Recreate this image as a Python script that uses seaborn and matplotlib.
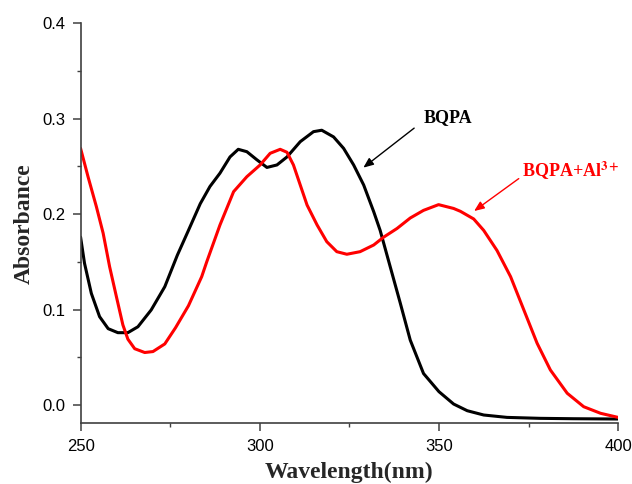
import matplotlib
matplotlib.use("Agg")
import matplotlib.pyplot as plt
import seaborn as sns
import pandas as pd
from matplotlib.ticker import MultipleLocator

# ---- data ----
black_wl = [250, 251.1, 253, 255.3, 257.7, 260.4, 263.2, 266, 269.7, 273.5, 277, 280.1,
            283.4, 286.1, 288.9, 291.7, 294, 296.4, 299.2, 302, 304.8, 307.6, 311.3, 315,
            317.3, 320.6, 323.4, 326.2, 329, 331.8, 333.6, 336.4, 339.2, 342, 345.7, 350,
            354.1, 357.9, 362.5, 369, 378.3, 387.6, 400]
black_abs = [0.176, 0.1485, 0.117, 0.0926, 0.080, 0.0758, 0.0758, 0.082, 0.0996, 0.124, 0.157, 0.183,
             0.211, 0.229, 0.243, 0.260, 0.268, 0.2655, 0.257, 0.249, 0.2516, 0.260, 0.276, 0.2865,
             0.288, 0.281, 0.269, 0.2516, 0.2306, 0.2026, 0.183, 0.145, 0.107, 0.068, 0.033, 0.014,
             0.001, -0.006, -0.0105, -0.013, -0.014, -0.0144, -0.0147]

red_wl = [250, 252.1, 254.4, 256.3, 258.1, 260, 261.8, 263.2, 265.1, 267.9, 270.2, 273.5,
          276.5, 280.1, 283.8, 285.2, 288.9, 292.7, 296.4, 300.1, 302.9, 305.7, 307.6, 309.4,
          311.3, 313.2, 316, 318.7, 321.5, 324.3, 328, 331.8, 334.6, 338.3, 342, 345.7,
          349.9, 354.1, 356, 359.7, 362.5, 366.2, 370, 373.7, 377.4, 381.1, 385.8, 390.4,
          395.1, 400]
red_abs = [0.269, 0.239, 0.208, 0.180, 0.145, 0.1135, 0.084, 0.069, 0.059, 0.055, 0.056, 0.064,
           0.081, 0.104, 0.1345, 0.150, 0.1887, 0.2236, 0.2393, 0.2516, 0.2638, 0.268, 0.2649, 0.2516,
           0.2306, 0.2096, 0.1887, 0.1712, 0.1607, 0.158, 0.1607, 0.1677, 0.176, 0.185, 0.196, 0.204,
           0.210, 0.206, 0.203, 0.195, 0.183, 0.162, 0.1345, 0.0996, 0.0647, 0.0367, 0.0123, -0.0018,
           -0.0087, -0.013]

series_names = ["BQPA", "BQPA+Al3+"]
series_colors = ["#000000", "#ff0000"]
x_ticks = [250, 300, 350, 400]
y_ticks = [0.0, 0.1, 0.2, 0.3, 0.4]
x_label = "Wavelength(nm)"
y_label = "Absorbance"

df = pd.concat([
    pd.DataFrame({"wl": black_wl, "A": black_abs, "s": series_names[0]}),
    pd.DataFrame({"wl": red_wl, "A": red_abs, "s": series_names[1]}),
])

sns.set_style("ticks")
plt.rcParams["font.family"] = ["Liberation Sans", "DejaVu Sans"]
plt.rcParams["mathtext.fontset"] = "stix"
plt.rcParams["lines.solid_joinstyle"] = "round"
plt.rcParams["lines.solid_capstyle"] = "round"

fig = plt.figure(figsize=(6.32, 4.84), dpi=100)
ax = fig.add_axes([0.1275, 0.1254, 0.978 - 0.1275, 0.9517 - 0.1254])

sns.lineplot(data=df, x="wl", y="A", hue="s", palette=dict(zip(series_names, series_colors)),
             estimator=None, linewidth=2.2, legend=False, ax=ax)

ax.set_xlim(250, 400)
ax.set_ylim(-0.0192, 0.4)
ax.set_xticks(x_ticks)
ax.set_yticks(y_ticks)
ax.set_xticklabels([str(t) for t in x_ticks])
ax.set_yticklabels([f"{t:.1f}" for t in y_ticks])
ax.xaxis.set_minor_locator(MultipleLocator(25))
ax.yaxis.set_minor_locator(MultipleLocator(0.05))
sns.despine(ax=ax)
for sp in ["left", "bottom"]:
    ax.spines[sp].set_color("#404040")
    ax.spines[sp].set_linewidth(1.2)
ax.tick_params(which="major", length=6, width=1.1, color="#404040", labelsize=12,
               labelcolor="black", pad=5)
ax.tick_params(which="minor", length=3, width=1.0, color="#404040")

ax.set_xlabel(x_label, family=["Liberation Serif"], fontweight="bold", fontsize=17, labelpad=6)
ax.set_ylabel(y_label, family=["Liberation Serif"], fontweight="bold", fontsize=17, labelpad=5)

# annotations
ax.text(352.6, 0.301, "BQPA", family=["Liberation Serif"], fontweight="bold", fontsize=13,
        color="black", ha="center", va="center")
ax.annotate("", xy=(328.3, 0.247), xytext=(343.7, 0.292),
            arrowprops=dict(arrowstyle="-|>,head_length=0.6,head_width=0.25", color="black", lw=1.0))
ax.text(386.7, 0.246, r"BQPA+Al$^{\mathbf{3+}}$", family=["Liberation Serif"], fontweight="bold",
        fontsize=13, color="red", ha="center", va="center")
ax.annotate("", xy=(359.2, 0.2016), xytext=(372.9, 0.239),
            arrowprops=dict(arrowstyle="-|>,head_length=0.6,head_width=0.25", color="red", lw=1.0))

fig.savefig("out.png", dpi=100)
